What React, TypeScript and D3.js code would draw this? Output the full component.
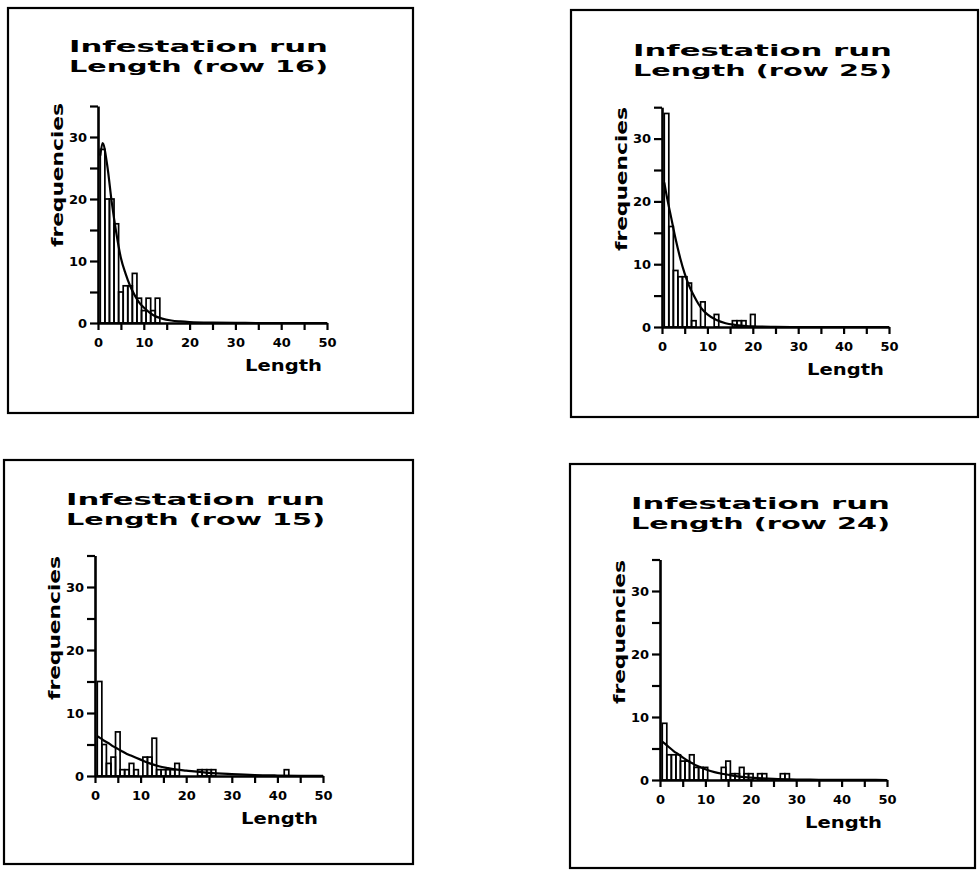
import React, { useRef, useEffect } from "react";
import * as d3 from "d3";

// counts per run length, index 0 = length 1
const row16Counts = [28, 20, 20, 16, 5, 6, 6, 8, 4, 2, 4, 2, 4];
const row25Counts = [34, 16, 9, 8, 8, 7, 1, 0, 4, 0, 0, 2, 0, 0, 0, 1, 1, 1, 0, 2];
const row15Counts = [
  15, 5, 2, 3, 7, 1, 1, 2, 1, 0, 3, 3, 6, 1, 1, 1, 1, 2, 0, 0, 0, 0, 1, 1, 1, 1,
  0, 0, 0, 0, 0, 0, 0, 0, 0, 0, 0, 0, 0, 0, 0, 1,
];
const row24Counts = [9, 4, 4, 4, 3, 3, 4, 2, 2, 2, 0, 0, 0, 2, 3, 1, 1, 2, 1, 1, 0, 1, 1, 0, 0, 0, 1, 1];

// fitted curve
const fitX = [0.5, 1, 2, 3, 4, 5, 6, 7, 8, 9, 10, 12, 14, 16, 18, 20, 25, 30, 35, 40, 45, 50];
const row16Fit = [27, 29, 25.5, 19.5, 14.5, 10.5, 8, 6, 4.5, 3.3, 2.5, 1.3, 0.7, 0.4, 0.25, 0.15, 0.05, 0.02, 0, 0, 0, 0];
const row25Fit = [23, 21, 17.5, 14, 11, 8.5, 6.5, 5, 3.7, 2.7, 2, 1.1, 0.6, 0.35, 0.2, 0.1, 0.03, 0, 0, 0, 0, 0];
const row15Fit = [6.3, 6.1, 5.6, 5.2, 4.7, 4.3, 3.9, 3.5, 3.2, 2.9, 2.6, 2.0, 1.55, 1.25, 1.0, 0.85, 0.5, 0.3, 0.15, 0.08, 0.04, 0.02];
const row24Fit = [6.1, 5.8, 5.2, 4.6, 4.1, 3.6, 3.1, 2.7, 2.3, 2.0, 1.7, 1.25, 0.95, 0.7, 0.5, 0.38, 0.18, 0.08, 0.04, 0.02, 0.01, 0];

const xTicks = [0, 5, 10, 15, 20, 25, 30, 35, 40, 45, 50];
const yTicks = [0, 5, 10, 15, 20, 25, 30, 35];
const titleLine1 = "Infestation run";
const xLabel = "Length";
const yLabel = "frequencies";

const panels = [
  { row: "16", counts: row16Counts, fit: row16Fit, frame: [8, 8, 413, 413], origin: [98, 323], xEnd: 327, step10: 62 },
  { row: "25", counts: row25Counts, fit: row25Fit, frame: [571, 10, 978, 417], origin: [662, 327], xEnd: 889, step10: 62.8 },
  { row: "15", counts: row15Counts, fit: row15Fit, frame: [4, 460, 413, 864], origin: [95, 776], xEnd: 323, step10: 63 },
  { row: "24", counts: row24Counts, fit: row24Fit, frame: [570, 464, 975, 868], origin: [660, 780], xEnd: 887, step10: 63 },
];

const FONT = "'DejaVu Sans', 'Liberation Sans', sans-serif";

const App = () => {
  const svgRef = useRef(null);

  useEffect(() => {
    const svg = d3.select(svgRef.current);
    svg.selectAll("*").remove();

    panels.forEach((p) => {
      const [fx0, fy0, fx1, fy1] = p.frame;
      const [ox, oy] = p.origin;
      const g = svg.append("g");

      // frame
      g.append("rect")
        .attr("x", fx0).attr("y", fy0)
        .attr("width", fx1 - fx0).attr("height", fy1 - fy0)
        .attr("fill", "none").attr("stroke", "#000").attr("stroke-width", 2.2);

      const x = d3.scaleLinear().domain([0, 50]).range([ox, p.xEnd]);
      const y = d3.scaleLinear().domain([0, 35]).range([oy, oy - 3.5 * p.step10]);

      // title
      g.append("text")
        .attr("x", ox - 29).attr("y", oy - 271)
        .attr("textLength", 259).attr("lengthAdjust", "spacingAndGlyphs")
        .style("font-family", FONT).style("font-size", "16.5px").style("font-weight", 700)
        .text(titleLine1);
      g.append("text")
        .attr("x", ox - 29).attr("y", oy - 251)
        .attr("textLength", 259).attr("lengthAdjust", "spacingAndGlyphs")
        .style("font-family", FONT).style("font-size", "16.5px").style("font-weight", 700)
        .text(`Length (row ${p.row})`);

      // bars
      const bins = p.counts.map((c, i) => ({ len: i + 1, c })).filter((d) => d.c > 0);
      g.append("g").selectAll("rect")
        .data(bins)
        .enter()
        .append("rect")
        .attr("x", (d) => x(d.len - 0.5))
        .attr("width", (d) => x(d.len + 0.5) - x(d.len - 0.5))
        .attr("y", (d) => y(d.c))
        .attr("height", (d) => y(0) - y(d.c))
        .attr("fill", "none").attr("stroke", "#000").attr("stroke-width", 1.7);

      // fitted curve
      const line = d3.line()
        .x((d) => x(d[0]))
        .y((d) => y(d[1]))
        .curve(d3.curveMonotoneX);
      g.append("path")
        .datum(fitX.map((v, i) => [v, p.fit[i]]))
        .attr("d", line)
        .attr("fill", "none").attr("stroke", "#000").attr("stroke-width", 2.2);

      // x axis
      const ax = g.append("g")
        .attr("transform", `translate(0,${oy})`)
        .call(
          d3.axisBottom(x).tickValues(xTicks).tickSize(7).tickSizeOuter(0).tickPadding(8)
            .tickFormat((d) => (d % 10 === 0 ? String(d) : ""))
        );
      // y axis
      const ay = g.append("g")
        .attr("transform", `translate(${ox},0)`)
        .call(
          d3.axisLeft(y).tickValues(yTicks).tickSize(8).tickSizeOuter(0).tickPadding(3)
            .tickFormat((d) => (d % 10 === 0 ? String(d) : ""))
        );
      [ax, ay].forEach((a) => {
        a.select(".domain").attr("stroke-width", 2.6);
        a.selectAll(".tick line").attr("stroke-width", 2.2);
        a.selectAll(".tick text")
          .style("font-family", FONT).style("font-size", "13px").style("font-weight", 700)
          .attr("fill", "#000");
      });

      // axis titles
      g.append("text")
        .attr("x", p.xEnd - 82).attr("y", oy + 48)
        .attr("textLength", 77).attr("lengthAdjust", "spacingAndGlyphs")
        .style("font-family", FONT).style("font-size", "15px").style("font-weight", 700)
        .text(xLabel);
      g.append("text")
        .attr("transform", `translate(${ox - 35},${oy - 148}) rotate(-90)`)
        .attr("text-anchor", "middle")
        .attr("textLength", 144).attr("lengthAdjust", "spacingAndGlyphs")
        .style("font-family", FONT).style("font-size", "15px").style("font-weight", 700)
        .text(yLabel);
    });
  }, []);

  return (
    <svg
      ref={svgRef}
      width={980}
      height={870}
      style={{ position: "absolute", left: 0, top: 0, background: "#fff" }}
    ></svg>
  );
};

export default App;
